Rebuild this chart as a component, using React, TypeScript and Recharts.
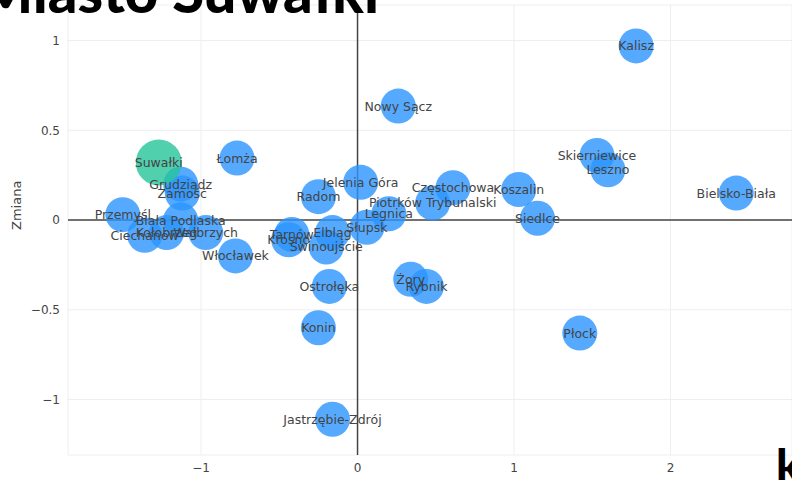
import React from 'react';
import {
  ScatterChart,
  Scatter,
  XAxis,
  YAxis,
  CartesianGrid,
  ReferenceLine,
  LabelList,
} from 'recharts';

const cities = [
  'Kalisz', 'Nowy Sącz', 'Łomża', 'Grudziądz', 'Zamość', 'Jelenia Góra', 'Radom',
  'Piotrków Trybunalski', 'Legnica', 'Częstochowa', 'Koszalin', 'Siedlce',
  'Skierniewice', 'Leszno', 'Bielsko-Biała', 'Słupsk', 'Elbląg', 'Świnoujście',
  'Tarnów', 'Krosno', 'Włocławek', 'Ostrołęka', 'Żory', 'Rybnik', 'Konin',
  'Jastrzębie-Zdrój', 'Płock', 'Przemyśl', 'Biała Podlaska', 'Ciechanów',
  'Kołobrzeg', 'Wałbrzych',
];
const xValues = [
  1.78, 0.26, -0.77, -1.13, -1.12, 0.02, -0.25,
  0.48, 0.2, 0.61, 1.03, 1.15,
  1.53, 1.6, 2.42, 0.06, -0.16, -0.2,
  -0.42, -0.44, -0.78, -0.18, 0.34, 0.44, -0.25,
  -0.16, 1.42, -1.5, -1.13, -1.36,
  -1.22, -0.97,
];
const yValues = [
  0.97, 0.635, 0.345, 0.2, 0.15, 0.21, 0.13,
  0.095, 0.035, 0.18, 0.17, 0.01,
  0.36, 0.28, 0.15, -0.04, -0.07, -0.15,
  -0.08, -0.11, -0.2, -0.37, -0.33, -0.37, -0.6,
  -1.11, -0.63, 0.03, 0.0, -0.085,
  -0.07, -0.07,
];

const highlightCity = 'Suwałki';
const highlightX = -1.27;
const highlightY = 0.32;

const xTicks = [-1, 0, 1, 2];
const yTicks = [-1, -0.5, 0, 0.5, 1];

const others = cities.map((name, i) => ({ name, x: xValues[i], y: yValues[i] }));
const highlight = [{ name: highlightCity, x: highlightX, y: highlightY }];
const allPoints = [...highlight, ...others];

const fmt = (v: number) => (v < 0 ? '\u2212' + Math.abs(v) : String(v));

const font = '"DejaVu Sans", Verdana, sans-serif';
const titleFont = 'Lato, "Open Sans", sans-serif';

const Dot = (r: number, fill: string) => (props: any) => (
  <circle cx={props.cx} cy={props.cy} r={r} fill={fill} fillOpacity={0.8} />
);

const NoDot = () => <g />;

const CityLabel = (props: any) => {
  const { x, y, width, height, value } = props;
  return (
    <text
      x={x + (width || 0) / 2}
      y={y + (height || 0) / 2}
      textAnchor="middle"
      dominantBaseline="central"
      fill="#444"
      fontSize={12.5}
      fontFamily={font}
    >
      {value}
    </text>
  );
};

export default function App() {
  return (
    <div style={{ position: 'fixed', left: 0, top: 0, width: 792, height: 480, overflow: 'hidden', background: '#fff' }}>
      <ScatterChart
        width={792}
        height={480}
        margin={{ top: 5, right: 0, bottom: 0, left: 8 }}
        style={{ fontFamily: font }}
      >
        <CartesianGrid stroke="#eeeeee" />
        <XAxis
          type="number"
          dataKey="x"
          domain={[-1.85, 2.776]}
          ticks={xTicks}
          tickFormatter={fmt}
          axisLine={false}
          tickLine={false}
          height={25}
          tick={{ fill: '#444', fontSize: 12 }}
          allowDataOverflow
        />
        <YAxis
          type="number"
          dataKey="y"
          domain={[-1.309, 1.198]}
          ticks={yTicks}
          tickFormatter={fmt}
          axisLine={false}
          tickLine={false}
          width={60}
          tick={{ fill: '#444', fontSize: 12 }}
          label={{ value: 'Zmiana', angle: -90, position: 'insideLeft', offset: 8, fill: '#444', fontSize: 13 }}
          allowDataOverflow
        />
        <ReferenceLine x={0} stroke="#444" strokeWidth={1.5} />
        <ReferenceLine y={0} stroke="#444" strokeWidth={1.5} />
        <Scatter data={others} shape={Dot(17.5, '#2b95ff')} isAnimationActive={false} />
        <Scatter data={highlight} shape={Dot(23, '#26c49a')} isAnimationActive={false} />
        <Scatter data={allPoints} shape={NoDot} isAnimationActive={false}>
          <LabelList dataKey="name" content={CityLabel} />
        </Scatter>
      </ScatterChart>
      <div
        style={{
          position: 'absolute', left: -22, top: -38, fontFamily: titleFont, fontWeight: 900,
          fontSize: 58, lineHeight: '58px', color: '#000', whiteSpace: 'nowrap',
        }}
      >
        Miasto Suwałki
      </div>
      <div
        style={{
          position: 'absolute', left: 776, top: 442, fontFamily: titleFont, fontWeight: 900,
          fontSize: 46, lineHeight: '46px', color: '#000', whiteSpace: 'nowrap',
        }}
      >
        k
      </div>
    </div>
  );
}
